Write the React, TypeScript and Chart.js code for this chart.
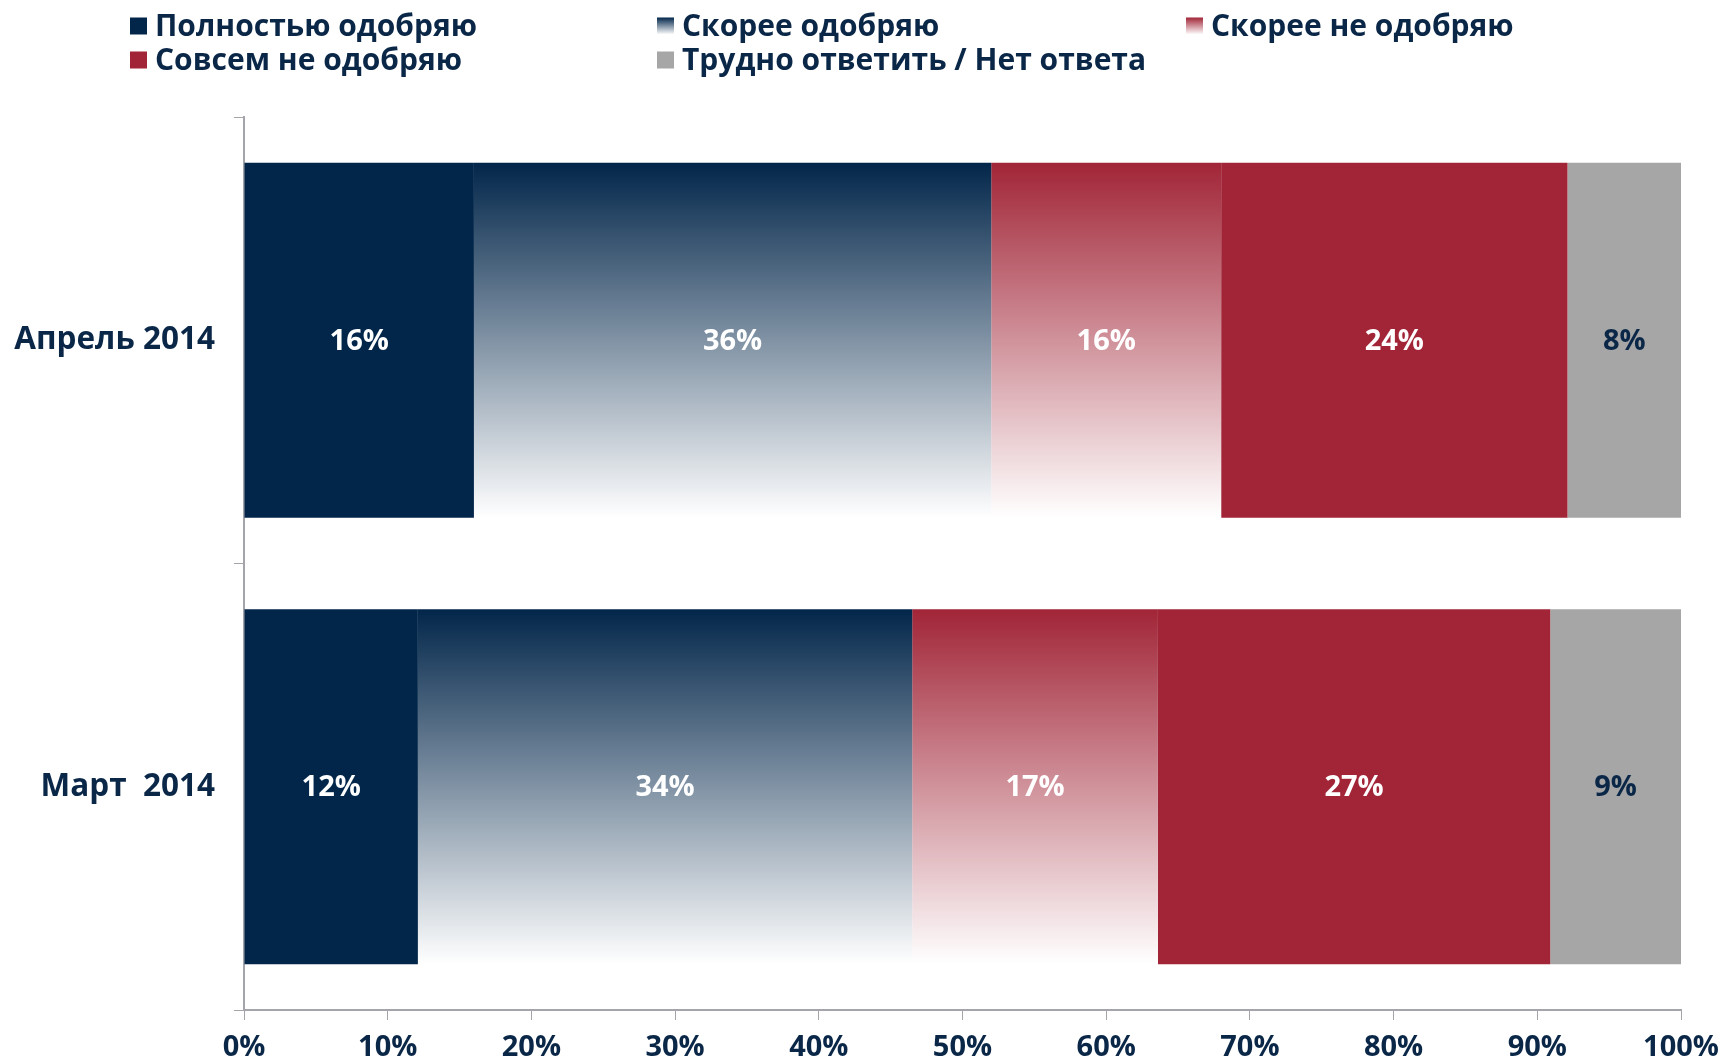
import React, { useEffect, useRef } from "react";
import { Chart, registerables } from "chart.js";

Chart.register(...registerables);

const categories = ["Апрель 2014", "Март  2014"];
const seriesNames = [
  "Полностью одобряю",
  "Скорее одобряю",
  "Скорее не одобряю",
  "Совсем не одобряю",
  "Трудно ответить / Нет ответа",
];
const fullyApprove = [16.0, 12.1];
const ratherApprove = [36.0, 34.4];
const ratherDisapprove = [16.0, 17.1];
const fullyDisapprove = [24.1, 27.3];
const hardToSay = [7.9, 9.1];
const xTickValues = [0, 10, 20, 30, 40, 50, 60, 70, 80, 90, 100];

const NAVY = "#02264a";
const RED = "#a12537";
const GREY = "#a6a6a6";
const TEXT = "#0a2748";
const AXIS = "#a3a5ab";
const FONT = "'Open Sans', 'DejaVu Sans', sans-serif";
const BAR_FRACTION = 0.795;

function gradientFill(color: string) {
  return (ctx: any) => {
    const chart = ctx.chart;
    const area = chart.chartArea;
    if (!area || ctx.dataIndex === undefined) return color;
    const band = (area.bottom - area.top) / categories.length;
    const center = chart.scales.y.getPixelForValue(ctx.dataIndex);
    const half = (band * BAR_FRACTION) / 2;
    const g = chart.ctx.createLinearGradient(0, center - half, 0, center + half);
    g.addColorStop(0, color);
    g.addColorStop(1, "#ffffff");
    return g;
  };
}

const legendPlugin = {
  id: "gridLegend",
  afterDraw(chart: any) {
    const ctx = chart.ctx;
    const cols = [130, 657, 1186];
    const rows = [26, 60];
    const size = 17;
    ctx.save();
    ctx.font = `bold 30px ${FONT}`;
    ctx.textBaseline = "middle";
    ctx.textAlign = "left";
    chart.data.datasets.forEach((ds: any, i: number) => {
      const x = cols[i % 3];
      const y = rows[Math.floor(i / 3)];
      const top = y - size / 2;
      if (ds.gradientLegend) {
        const g = ctx.createLinearGradient(0, top, 0, top + size);
        g.addColorStop(0, ds.baseColor);
        g.addColorStop(1, "#ffffff");
        ctx.fillStyle = g;
      } else {
        ctx.fillStyle = ds.baseColor;
      }
      ctx.fillRect(x, top, size, size);
      ctx.fillStyle = TEXT;
      ctx.fillText(ds.label, x + 25, y + 1);
    });
    ctx.restore();
  },
};

const valueLabelPlugin = {
  id: "valueLabels",
  afterDatasetsDraw(chart: any) {
    const ctx = chart.ctx;
    ctx.save();
    ctx.font = `bold 29px ${FONT}`;
    ctx.textAlign = "center";
    ctx.textBaseline = "middle";
    chart.data.datasets.forEach((ds: any, di: number) => {
      const meta = chart.getDatasetMeta(di);
      meta.data.forEach((el: any, i: number) => {
        const v = ds.data[i];
        const cx = (el.x + el.base) / 2;
        ctx.fillStyle = ds.labelColor;
        ctx.fillText(`${Math.round(v)}%`, cx, el.y + 1);
      });
    });
    ctx.restore();
  },
};

export default function App() {
  const ref = useRef<HTMLCanvasElement | null>(null);

  useEffect(() => {
    if (!ref.current) return;
    const mk = (label: string, data: number[], color: string, gradient: boolean, labelColor: string) => ({
      label,
      data,
      baseColor: color,
      gradientLegend: gradient,
      labelColor,
      backgroundColor: gradient ? gradientFill(color) : color,
      borderWidth: 0,
      categoryPercentage: 1,
      barPercentage: BAR_FRACTION,
    });
    const chart = new Chart(ref.current, {
      type: "bar",
      data: {
        labels: categories,
        datasets: [
          mk(seriesNames[0], fullyApprove, NAVY, false, "#ffffff"),
          mk(seriesNames[1], ratherApprove, NAVY, true, "#ffffff"),
          mk(seriesNames[2], ratherDisapprove, RED, true, "#ffffff"),
          mk(seriesNames[3], fullyDisapprove, RED, false, "#ffffff"),
          mk(seriesNames[4], hardToSay, GREY, false, TEXT),
        ] as any,
      },
      options: {
        indexAxis: "y",
        animation: false,
        responsive: true,
        maintainAspectRatio: false,
        layout: { padding: { top: 117, right: 46, left: 0, bottom: 0 } },
        plugins: {
          legend: { display: false },
          tooltip: { enabled: false },
        },
        scales: {
          x: {
            stacked: true,
            min: 0,
            max: 100,
            afterFit: (s: any) => {
              s.height = 54;
              s.paddingRight = 0;
              s.paddingLeft = 0;
            },
            afterBuildTicks: (s: any) => {
              s.ticks = xTickValues.map((v) => ({ value: v }));
            },
            ticks: {
              color: TEXT,
              font: { family: FONT, size: 29, weight: "bold" },
              padding: 10,
              maxRotation: 0,
              callback: (v: any) => `${v}%`,
            },
            grid: {
              drawOnChartArea: false,
              drawTicks: true,
              tickLength: 10,
              color: AXIS,
              lineWidth: 1,
            },
            border: { display: true, color: AXIS, width: 2 },
          },
          y: {
            stacked: true,
            afterFit: (s: any) => {
              s.width = 244;
            },
            ticks: {
              color: TEXT,
              font: { family: FONT, size: 31.5, weight: "bold" },
              padding: 19,
            },
            grid: {
              offset: true,
              drawOnChartArea: false,
              drawTicks: true,
              tickLength: 10,
              color: AXIS,
              lineWidth: 1,
            },
            border: { display: true, color: AXIS, width: 2 },
          },
        },
      } as any,
      plugins: [legendPlugin, valueLabelPlugin],
    });
    return () => chart.destroy();
  }, []);

  return (
    <div style={{ position: "fixed", left: 0, top: 0, width: 1727, height: 1064, background: "#ffffff" }}>
      <canvas ref={ref} />
    </div>
  );
}
